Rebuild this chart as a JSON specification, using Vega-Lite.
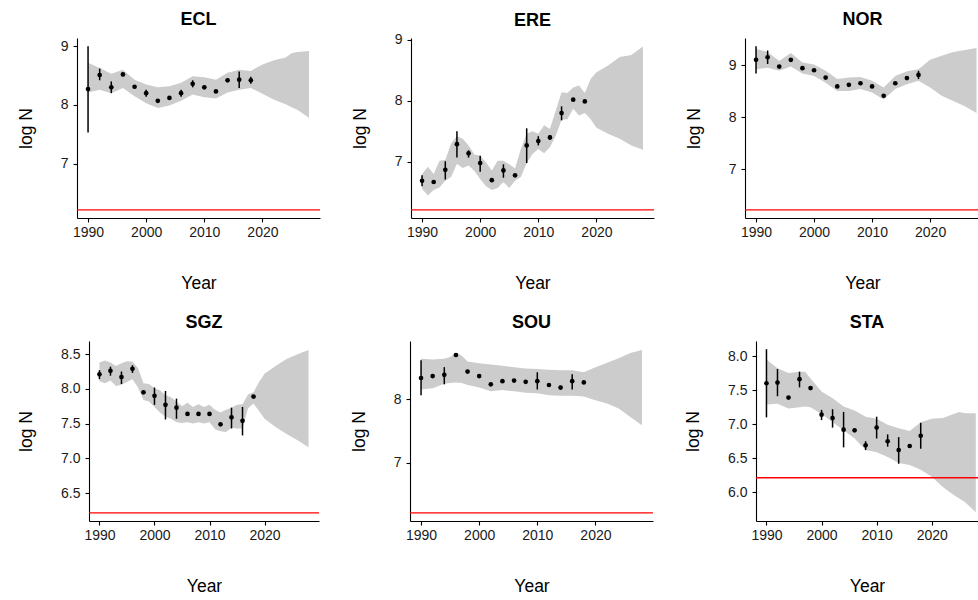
{
"$schema": "https://vega.github.io/schema/vega-lite/v6.json",
"padding": {"left": 16, "top": 11, "right": 0, "bottom": 0},
"background": "white",
"datasets": {
"thr": [{"threshold": 6.2146}],
"band": [
{"pop":"ECL","year":1990,"lower":8.21,"upper":8.72},{"pop":"ECL","year":1992,"lower":8.26,"upper":8.63},{"pop":"ECL","year":1994,"lower":8.2,"upper":8.53},{"pop":"ECL","year":1996,"lower":8.29,"upper":8.6},{"pop":"ECL","year":1998,"lower":8.15,"upper":8.43},{"pop":"ECL","year":2000,"lower":8.03,"upper":8.35},{"pop":"ECL","year":2002,"lower":7.95,"upper":8.3},{"pop":"ECL","year":2004,"lower":7.99,"upper":8.32},{"pop":"ECL","year":2006,"lower":8.07,"upper":8.38},{"pop":"ECL","year":2008,"lower":8.18,"upper":8.49},{"pop":"ECL","year":2010,"lower":8.13,"upper":8.47},{"pop":"ECL","year":2012,"lower":8.11,"upper":8.43},{"pop":"ECL","year":2014,"lower":8.21,"upper":8.55},{"pop":"ECL","year":2016,"lower":8.26,"upper":8.6},{"pop":"ECL","year":2018,"lower":8.29,"upper":8.58},{"pop":"ECL","year":2020,"lower":8.19,"upper":8.69},{"pop":"ECL","year":2022,"lower":8.09,"upper":8.76},{"pop":"ECL","year":2024,"lower":8.01,"upper":8.81},{"pop":"ECL","year":2025,"lower":7.96,"upper":8.88},{"pop":"ECL","year":2026,"lower":7.92,"upper":8.9},{"pop":"ECL","year":2028,"lower":7.78,"upper":8.92},
{"pop":"ERE","year":1990,"lower":6.56,"upper":6.8},{"pop":"ERE","year":1991,"lower":6.45,"upper":6.92},{"pop":"ERE","year":1992,"lower":6.54,"upper":6.8},{"pop":"ERE","year":1993,"lower":6.58,"upper":7.02},{"pop":"ERE","year":1994,"lower":6.69,"upper":7.03},{"pop":"ERE","year":1995,"lower":6.75,"upper":7.3},{"pop":"ERE","year":1996,"lower":6.97,"upper":7.42},{"pop":"ERE","year":1997,"lower":6.9,"upper":7.38},{"pop":"ERE","year":1998,"lower":6.94,"upper":7.27},{"pop":"ERE","year":1999,"lower":6.85,"upper":7.12},{"pop":"ERE","year":2000,"lower":6.72,"upper":7.1},{"pop":"ERE","year":2001,"lower":6.6,"upper":6.99},{"pop":"ERE","year":2002,"lower":6.54,"upper":6.86},{"pop":"ERE","year":2003,"lower":6.57,"upper":7.02},{"pop":"ERE","year":2004,"lower":6.67,"upper":7.02},{"pop":"ERE","year":2005,"lower":6.57,"upper":6.96},{"pop":"ERE","year":2006,"lower":6.69,"upper":6.89},{"pop":"ERE","year":2007,"lower":6.75,"upper":7.21},{"pop":"ERE","year":2008,"lower":6.98,"upper":7.46},{"pop":"ERE","year":2009,"lower":7.13,"upper":7.5},{"pop":"ERE","year":2010,"lower":7.21,"upper":7.46},{"pop":"ERE","year":2011,"lower":7.14,"upper":7.6},{"pop":"ERE","year":2012,"lower":7.24,"upper":7.54},{"pop":"ERE","year":2013,"lower":7.43,"upper":7.84},{"pop":"ERE","year":2014,"lower":7.69,"upper":8.14},{"pop":"ERE","year":2015,"lower":7.7,"upper":8.13},{"pop":"ERE","year":2016,"lower":7.87,"upper":8.22},{"pop":"ERE","year":2017,"lower":7.76,"upper":8.25},{"pop":"ERE","year":2018,"lower":7.8,"upper":8.13},{"pop":"ERE","year":2019,"lower":7.7,"upper":8.36},{"pop":"ERE","year":2020,"lower":7.56,"upper":8.47},{"pop":"ERE","year":2022,"lower":7.46,"upper":8.58},{"pop":"ERE","year":2024,"lower":7.38,"upper":8.72},{"pop":"ERE","year":2026,"lower":7.27,"upper":8.75},{"pop":"ERE","year":2028,"lower":7.2,"upper":8.89},
{"pop":"NOR","year":1990,"lower":8.92,"upper":9.31},{"pop":"NOR","year":1992,"lower":8.95,"upper":9.25},{"pop":"NOR","year":1994,"lower":8.89,"upper":9.08},{"pop":"NOR","year":1996,"lower":8.97,"upper":9.23},{"pop":"NOR","year":1998,"lower":8.84,"upper":9.05},{"pop":"NOR","year":2000,"lower":8.79,"upper":9.01},{"pop":"NOR","year":2002,"lower":8.66,"upper":8.89},{"pop":"NOR","year":2004,"lower":8.5,"upper":8.73},{"pop":"NOR","year":2006,"lower":8.5,"upper":8.76},{"pop":"NOR","year":2008,"lower":8.54,"upper":8.77},{"pop":"NOR","year":2010,"lower":8.47,"upper":8.7},{"pop":"NOR","year":2012,"lower":8.34,"upper":8.57},{"pop":"NOR","year":2014,"lower":8.54,"upper":8.79},{"pop":"NOR","year":2016,"lower":8.63,"upper":8.88},{"pop":"NOR","year":2018,"lower":8.7,"upper":8.92},{"pop":"NOR","year":2020,"lower":8.57,"upper":9.1},{"pop":"NOR","year":2022,"lower":8.41,"upper":9.18},{"pop":"NOR","year":2024,"lower":8.31,"upper":9.25},{"pop":"NOR","year":2026,"lower":8.21,"upper":9.29},{"pop":"NOR","year":2028,"lower":8.08,"upper":9.33},
{"pop":"SGZ","year":1990,"lower":8.11,"upper":8.38},{"pop":"SGZ","year":1991,"lower":8.08,"upper":8.41},{"pop":"SGZ","year":1992,"lower":8.12,"upper":8.38},{"pop":"SGZ","year":1993,"lower":8.04,"upper":8.33},{"pop":"SGZ","year":1994,"lower":8.06,"upper":8.37},{"pop":"SGZ","year":1995,"lower":8.1,"upper":8.4},{"pop":"SGZ","year":1996,"lower":8.14,"upper":8.39},{"pop":"SGZ","year":1997,"lower":8.02,"upper":8.3},{"pop":"SGZ","year":1998,"lower":7.84,"upper":8.08},{"pop":"SGZ","year":1999,"lower":7.82,"upper":8.07},{"pop":"SGZ","year":2000,"lower":7.74,"upper":8.01},{"pop":"SGZ","year":2001,"lower":7.66,"upper":7.98},{"pop":"SGZ","year":2002,"lower":7.6,"upper":7.91},{"pop":"SGZ","year":2003,"lower":7.57,"upper":7.88},{"pop":"SGZ","year":2004,"lower":7.52,"upper":7.82},{"pop":"SGZ","year":2005,"lower":7.51,"upper":7.75},{"pop":"SGZ","year":2006,"lower":7.52,"upper":7.8},{"pop":"SGZ","year":2007,"lower":7.5,"upper":7.74},{"pop":"SGZ","year":2008,"lower":7.52,"upper":7.78},{"pop":"SGZ","year":2009,"lower":7.5,"upper":7.74},{"pop":"SGZ","year":2010,"lower":7.52,"upper":7.77},{"pop":"SGZ","year":2011,"lower":7.42,"upper":7.7},{"pop":"SGZ","year":2012,"lower":7.39,"upper":7.66},{"pop":"SGZ","year":2013,"lower":7.38,"upper":7.7},{"pop":"SGZ","year":2014,"lower":7.44,"upper":7.73},{"pop":"SGZ","year":2015,"lower":7.43,"upper":7.77},{"pop":"SGZ","year":2016,"lower":7.43,"upper":7.78},{"pop":"SGZ","year":2017,"lower":7.72,"upper":7.92},{"pop":"SGZ","year":2018,"lower":7.79,"upper":7.95},{"pop":"SGZ","year":2019,"lower":7.68,"upper":8.1},{"pop":"SGZ","year":2020,"lower":7.57,"upper":8.22},{"pop":"SGZ","year":2022,"lower":7.45,"upper":8.33},{"pop":"SGZ","year":2024,"lower":7.35,"upper":8.43},{"pop":"SGZ","year":2026,"lower":7.26,"upper":8.5},{"pop":"SGZ","year":2028,"lower":7.16,"upper":8.56},
{"pop":"SOU","year":1990,"lower":8.15,"upper":8.63},{"pop":"SOU","year":1992,"lower":8.17,"upper":8.62},{"pop":"SOU","year":1994,"lower":8.24,"upper":8.63},{"pop":"SOU","year":1995,"lower":8.25,"upper":8.66},{"pop":"SOU","year":1996,"lower":8.26,"upper":8.73},{"pop":"SOU","year":1997,"lower":8.25,"upper":8.68},{"pop":"SOU","year":1998,"lower":8.22,"upper":8.59},{"pop":"SOU","year":2000,"lower":8.18,"upper":8.56},{"pop":"SOU","year":2002,"lower":8.12,"upper":8.54},{"pop":"SOU","year":2004,"lower":8.14,"upper":8.52},{"pop":"SOU","year":2006,"lower":8.12,"upper":8.5},{"pop":"SOU","year":2008,"lower":8.1,"upper":8.48},{"pop":"SOU","year":2010,"lower":8.09,"upper":8.47},{"pop":"SOU","year":2012,"lower":8.06,"upper":8.46},{"pop":"SOU","year":2014,"lower":8.05,"upper":8.45},{"pop":"SOU","year":2016,"lower":8.05,"upper":8.45},{"pop":"SOU","year":2018,"lower":8.04,"upper":8.42},{"pop":"SOU","year":2020,"lower":7.98,"upper":8.5},{"pop":"SOU","year":2022,"lower":7.93,"upper":8.57},{"pop":"SOU","year":2024,"lower":7.85,"upper":8.64},{"pop":"SOU","year":2026,"lower":7.72,"upper":8.72},{"pop":"SOU","year":2028,"lower":7.59,"upper":8.77},
{"pop":"STA","year":1990,"lower":7.29,"upper":7.95},{"pop":"STA","year":1992,"lower":7.3,"upper":7.82},{"pop":"STA","year":1994,"lower":7.23,"upper":7.75},{"pop":"STA","year":1996,"lower":7.25,"upper":7.77},{"pop":"STA","year":1997,"lower":7.26,"upper":7.77},{"pop":"STA","year":1998,"lower":7.25,"upper":7.67},{"pop":"STA","year":2000,"lower":7.15,"upper":7.48},{"pop":"STA","year":2002,"lower":7.03,"upper":7.38},{"pop":"STA","year":2004,"lower":6.91,"upper":7.26},{"pop":"STA","year":2006,"lower":6.79,"upper":7.2},{"pop":"STA","year":2008,"lower":6.62,"upper":7.11},{"pop":"STA","year":2010,"lower":6.59,"upper":7.08},{"pop":"STA","year":2012,"lower":6.52,"upper":6.99},{"pop":"STA","year":2014,"lower":6.43,"upper":6.94},{"pop":"STA","year":2016,"lower":6.4,"upper":6.9},{"pop":"STA","year":2018,"lower":6.33,"upper":7.03},{"pop":"STA","year":2020,"lower":6.23,"upper":7.08},{"pop":"STA","year":2022,"lower":6.08,"upper":7.09},{"pop":"STA","year":2024,"lower":5.96,"upper":7.15},{"pop":"STA","year":2025,"lower":5.91,"upper":7.18},{"pop":"STA","year":2026,"lower":5.86,"upper":7.16},{"pop":"STA","year":2028,"lower":5.71,"upper":7.16}
],
"obs": [
{"pop":"ECL","year":1990,"est":8.27,"lo":7.53,"hi":9.0},{"pop":"ECL","year":1992,"est":8.51,"lo":8.42,"hi":8.62},{"pop":"ECL","year":1994,"est":8.3,"lo":8.2,"hi":8.4},{"pop":"ECL","year":1996,"est":8.52,"lo":8.49,"hi":8.55},{"pop":"ECL","year":1998,"est":8.31,"lo":8.28,"hi":8.34},{"pop":"ECL","year":2000,"est":8.2,"lo":8.14,"hi":8.26},{"pop":"ECL","year":2002,"est":8.07,"lo":8.05,"hi":8.09},{"pop":"ECL","year":2004,"est":8.12,"lo":8.1,"hi":8.14},{"pop":"ECL","year":2006,"est":8.2,"lo":8.14,"hi":8.26},{"pop":"ECL","year":2008,"est":8.36,"lo":8.3,"hi":8.42},{"pop":"ECL","year":2010,"est":8.3,"lo":8.27,"hi":8.33},{"pop":"ECL","year":2012,"est":8.23,"lo":8.21,"hi":8.25},{"pop":"ECL","year":2014,"est":8.42,"lo":8.39,"hi":8.45},{"pop":"ECL","year":2016,"est":8.43,"lo":8.29,"hi":8.57},{"pop":"ECL","year":2018,"est":8.42,"lo":8.36,"hi":8.48},
{"pop":"ERE","year":1990,"est":6.69,"lo":6.6,"hi":6.78},{"pop":"ERE","year":1992,"est":6.67,"lo":6.64,"hi":6.7},{"pop":"ERE","year":1994,"est":6.87,"lo":6.71,"hi":7.01},{"pop":"ERE","year":1996,"est":7.29,"lo":7.07,"hi":7.5},{"pop":"ERE","year":1998,"est":7.14,"lo":7.07,"hi":7.19},{"pop":"ERE","year":2000,"est":6.98,"lo":6.84,"hi":7.1},{"pop":"ERE","year":2002,"est":6.7,"lo":6.68,"hi":6.72},{"pop":"ERE","year":2004,"est":6.86,"lo":6.74,"hi":6.96},{"pop":"ERE","year":2006,"est":6.78,"lo":6.76,"hi":6.8},{"pop":"ERE","year":2008,"est":7.27,"lo":6.98,"hi":7.55},{"pop":"ERE","year":2010,"est":7.34,"lo":7.27,"hi":7.42},{"pop":"ERE","year":2012,"est":7.4,"lo":7.36,"hi":7.44},{"pop":"ERE","year":2014,"est":7.8,"lo":7.68,"hi":7.91},{"pop":"ERE","year":2016,"est":8.02,"lo":8.0,"hi":8.04},{"pop":"ERE","year":2018,"est":7.99,"lo":7.97,"hi":8.01},
{"pop":"NOR","year":1990,"est":9.1,"lo":8.84,"hi":9.36},{"pop":"NOR","year":1992,"est":9.15,"lo":9.02,"hi":9.28},{"pop":"NOR","year":1994,"est":8.97,"lo":8.95,"hi":8.99},{"pop":"NOR","year":1996,"est":9.1,"lo":9.08,"hi":9.12},{"pop":"NOR","year":1998,"est":8.94,"lo":8.92,"hi":8.96},{"pop":"NOR","year":2000,"est":8.9,"lo":8.88,"hi":8.92},{"pop":"NOR","year":2002,"est":8.76,"lo":8.74,"hi":8.78},{"pop":"NOR","year":2004,"est":8.59,"lo":8.57,"hi":8.61},{"pop":"NOR","year":2006,"est":8.62,"lo":8.6,"hi":8.64},{"pop":"NOR","year":2008,"est":8.65,"lo":8.63,"hi":8.67},{"pop":"NOR","year":2010,"est":8.59,"lo":8.57,"hi":8.61},{"pop":"NOR","year":2012,"est":8.41,"lo":8.39,"hi":8.43},{"pop":"NOR","year":2014,"est":8.65,"lo":8.62,"hi":8.68},{"pop":"NOR","year":2016,"est":8.75,"lo":8.73,"hi":8.77},{"pop":"NOR","year":2018,"est":8.81,"lo":8.73,"hi":8.89},
{"pop":"SGZ","year":1990,"est":8.21,"lo":8.14,"hi":8.27},{"pop":"SGZ","year":1992,"est":8.26,"lo":8.19,"hi":8.32},{"pop":"SGZ","year":1994,"est":8.17,"lo":8.07,"hi":8.25},{"pop":"SGZ","year":1996,"est":8.29,"lo":8.23,"hi":8.34},{"pop":"SGZ","year":1998,"est":7.95,"lo":7.93,"hi":7.97},{"pop":"SGZ","year":2000,"est":7.9,"lo":7.77,"hi":8.02},{"pop":"SGZ","year":2002,"est":7.77,"lo":7.56,"hi":7.97},{"pop":"SGZ","year":2004,"est":7.73,"lo":7.57,"hi":7.86},{"pop":"SGZ","year":2006,"est":7.64,"lo":7.62,"hi":7.66},{"pop":"SGZ","year":2008,"est":7.64,"lo":7.62,"hi":7.66},{"pop":"SGZ","year":2010,"est":7.64,"lo":7.62,"hi":7.66},{"pop":"SGZ","year":2012,"est":7.49,"lo":7.47,"hi":7.51},{"pop":"SGZ","year":2014,"est":7.59,"lo":7.43,"hi":7.73},{"pop":"SGZ","year":2016,"est":7.54,"lo":7.33,"hi":7.74},{"pop":"SGZ","year":2018,"est":7.89,"lo":7.87,"hi":7.91},
{"pop":"SOU","year":1990,"est":8.33,"lo":8.06,"hi":8.61},{"pop":"SOU","year":1992,"est":8.36,"lo":8.34,"hi":8.38},{"pop":"SOU","year":1994,"est":8.38,"lo":8.23,"hi":8.5},{"pop":"SOU","year":1996,"est":8.69,"lo":8.67,"hi":8.71},{"pop":"SOU","year":1998,"est":8.43,"lo":8.41,"hi":8.45},{"pop":"SOU","year":2000,"est":8.36,"lo":8.34,"hi":8.38},{"pop":"SOU","year":2002,"est":8.23,"lo":8.21,"hi":8.25},{"pop":"SOU","year":2004,"est":8.28,"lo":8.26,"hi":8.3},{"pop":"SOU","year":2006,"est":8.29,"lo":8.27,"hi":8.31},{"pop":"SOU","year":2008,"est":8.27,"lo":8.25,"hi":8.29},{"pop":"SOU","year":2010,"est":8.28,"lo":8.15,"hi":8.42},{"pop":"SOU","year":2012,"est":8.22,"lo":8.2,"hi":8.24},{"pop":"SOU","year":2014,"est":8.18,"lo":8.15,"hi":8.21},{"pop":"SOU","year":2016,"est":8.28,"lo":8.15,"hi":8.39},{"pop":"SOU","year":2018,"est":8.26,"lo":8.24,"hi":8.28},
{"pop":"STA","year":1990,"est":7.6,"lo":7.1,"hi":8.1},{"pop":"STA","year":1992,"est":7.61,"lo":7.41,"hi":7.81},{"pop":"STA","year":1994,"est":7.39,"lo":7.37,"hi":7.41},{"pop":"STA","year":1996,"est":7.66,"lo":7.54,"hi":7.77},{"pop":"STA","year":1998,"est":7.53,"lo":7.51,"hi":7.55},{"pop":"STA","year":2000,"est":7.14,"lo":7.06,"hi":7.21},{"pop":"STA","year":2002,"est":7.09,"lo":6.95,"hi":7.22},{"pop":"STA","year":2004,"est":6.92,"lo":6.66,"hi":7.18},{"pop":"STA","year":2006,"est":6.91,"lo":6.89,"hi":6.93},{"pop":"STA","year":2008,"est":6.69,"lo":6.62,"hi":6.75},{"pop":"STA","year":2010,"est":6.95,"lo":6.79,"hi":7.11},{"pop":"STA","year":2012,"est":6.75,"lo":6.67,"hi":6.85},{"pop":"STA","year":2014,"est":6.62,"lo":6.42,"hi":6.81},{"pop":"STA","year":2016,"est":6.68,"lo":6.66,"hi":6.7},{"pop":"STA","year":2018,"est":6.83,"lo":6.64,"hi":7.02}
]
},
"spacing": 22,
"vconcat": [
{"spacing": 0, "hconcat": [
{"width": 1, "height": 1, "data": {"values": []}, "mark": {"type": "point", "opacity": 0}},
{"spacing": 30, "hconcat": [
{"title": {"text": "ECL"}, "width": 243, "height": 180, "layer": [
{"data": {"name": "band"}, "transform": [{"filter": "datum.pop === 'ECL'"}], "mark": {"type": "area", "color": "#cccccc", "opacity": 1}, "encoding": {"x": {"field": "year", "type": "quantitative", "title": "Year", "scale": {"domain": [1988.1, 2029.9], "nice": false, "zero": false}, "axis": {"values": [1990, 2000, 2010, 2020], "format": "d"}}, "y": {"field": "lower", "type": "quantitative", "title": "log N", "scale": {"domain": [6.075, 9.14], "nice": false, "zero": false}, "axis": {"values": [7, 8, 9], "format": "d"}}, "y2": {"field": "upper"}}},
{"data": {"name": "thr"}, "mark": {"type": "rule", "color": "#ff0000", "strokeWidth": 1.3}, "encoding": {"y": {"field": "threshold", "type": "quantitative", "title": "log N"}}},
{"data": {"name": "obs"}, "transform": [{"filter": "datum.pop === 'ECL'"}], "mark": {"type": "rule", "color": "black", "strokeWidth": 1.5}, "encoding": {"x": {"field": "year", "type": "quantitative", "title": "Year"}, "y": {"field": "lo", "type": "quantitative", "title": "log N"}, "y2": {"field": "hi"}}},
{"data": {"name": "obs"}, "transform": [{"filter": "datum.pop === 'ECL'"}], "mark": {"type": "point", "filled": true, "color": "black", "opacity": 1, "size": 22}, "encoding": {"x": {"field": "year", "type": "quantitative", "title": "Year"}, "y": {"field": "est", "type": "quantitative", "title": "log N"}}}
]},
{"title": {"text": "ERE", "offset": 3}, "width": 243, "height": 180, "layer": [
{"data": {"name": "band"}, "transform": [{"filter": "datum.pop === 'ERE'"}], "mark": {"type": "area", "color": "#cccccc", "opacity": 1}, "encoding": {"x": {"field": "year", "type": "quantitative", "title": "Year", "scale": {"domain": [1988.1, 2029.9], "nice": false, "zero": false}, "axis": {"values": [1990, 2000, 2010, 2020], "format": "d"}}, "y": {"field": "lower", "type": "quantitative", "title": "log N", "scale": {"domain": [6.08, 9.03], "nice": false, "zero": false}, "axis": {"values": [7, 8, 9], "format": "d"}}, "y2": {"field": "upper"}}},
{"data": {"name": "thr"}, "mark": {"type": "rule", "color": "#ff0000", "strokeWidth": 1.3}, "encoding": {"y": {"field": "threshold", "type": "quantitative", "title": "log N"}}},
{"data": {"name": "obs"}, "transform": [{"filter": "datum.pop === 'ERE'"}], "mark": {"type": "rule", "color": "black", "strokeWidth": 1.5}, "encoding": {"x": {"field": "year", "type": "quantitative", "title": "Year"}, "y": {"field": "lo", "type": "quantitative", "title": "log N"}, "y2": {"field": "hi"}}},
{"data": {"name": "obs"}, "transform": [{"filter": "datum.pop === 'ERE'"}], "mark": {"type": "point", "filled": true, "color": "black", "opacity": 1, "size": 22}, "encoding": {"x": {"field": "year", "type": "quantitative", "title": "Year"}, "y": {"field": "est", "type": "quantitative", "title": "log N"}}}
]},
{"title": {"text": "NOR"}, "width": 235, "height": 180, "layer": [
{"data": {"name": "band"}, "transform": [{"filter": "datum.pop === 'NOR'"}], "mark": {"type": "area", "color": "#cccccc", "opacity": 1}, "encoding": {"x": {"field": "year", "type": "quantitative", "title": "Year", "scale": {"domain": [1988.1, 2028.6], "nice": false, "zero": false}, "axis": {"values": [1990, 2000, 2010, 2020], "format": "d"}}, "y": {"field": "lower", "type": "quantitative", "title": "log N", "scale": {"domain": [6.06, 9.52], "nice": false, "zero": false}, "axis": {"values": [7, 8, 9], "format": "d"}}, "y2": {"field": "upper"}}},
{"data": {"name": "thr"}, "mark": {"type": "rule", "color": "#ff0000", "strokeWidth": 1.3}, "encoding": {"y": {"field": "threshold", "type": "quantitative", "title": "log N"}}},
{"data": {"name": "obs"}, "transform": [{"filter": "datum.pop === 'NOR'"}], "mark": {"type": "rule", "color": "black", "strokeWidth": 1.5}, "encoding": {"x": {"field": "year", "type": "quantitative", "title": "Year"}, "y": {"field": "lo", "type": "quantitative", "title": "log N"}, "y2": {"field": "hi"}}},
{"data": {"name": "obs"}, "transform": [{"filter": "datum.pop === 'NOR'"}], "mark": {"type": "point", "filled": true, "color": "black", "opacity": 1, "size": 22}, "encoding": {"x": {"field": "year", "type": "quantitative", "title": "Year"}, "y": {"field": "est", "type": "quantitative", "title": "log N"}}}
]}
]}
]},
{"spacing": 0, "hconcat": [
{"width": 1, "height": 1, "data": {"values": []}, "mark": {"type": "point", "opacity": 0}},
{"spacing": 30, "hconcat": [
{"title": {"text": "SGZ"}, "width": 230, "height": 180, "layer": [
{"data": {"name": "band"}, "transform": [{"filter": "datum.pop === 'SGZ'"}], "mark": {"type": "area", "color": "#cccccc", "opacity": 1}, "encoding": {"x": {"field": "year", "type": "quantitative", "title": "Year", "scale": {"domain": [1988.1, 2029.9], "nice": false, "zero": false}, "axis": {"values": [1990, 2000, 2010, 2020], "format": "d"}}, "y": {"field": "lower", "type": "quantitative", "title": "log N", "scale": {"domain": [6.097, 8.69], "nice": false, "zero": false}, "axis": {"values": [6.5, 7, 7.5, 8, 8.5], "format": ".1f", "titlePadding": 25}}, "y2": {"field": "upper"}}},
{"data": {"name": "thr"}, "mark": {"type": "rule", "color": "#ff0000", "strokeWidth": 1.3}, "encoding": {"y": {"field": "threshold", "type": "quantitative", "title": "log N"}}},
{"data": {"name": "obs"}, "transform": [{"filter": "datum.pop === 'SGZ'"}], "mark": {"type": "rule", "color": "black", "strokeWidth": 1.5}, "encoding": {"x": {"field": "year", "type": "quantitative", "title": "Year"}, "y": {"field": "lo", "type": "quantitative", "title": "log N"}, "y2": {"field": "hi"}}},
{"data": {"name": "obs"}, "transform": [{"filter": "datum.pop === 'SGZ'"}], "mark": {"type": "point", "filled": true, "color": "black", "opacity": 1, "size": 22}, "encoding": {"x": {"field": "year", "type": "quantitative", "title": "Year"}, "y": {"field": "est", "type": "quantitative", "title": "log N"}}}
]},
{"title": {"text": "SOU"}, "width": 243, "height": 180, "layer": [
{"data": {"name": "band"}, "transform": [{"filter": "datum.pop === 'SOU'"}], "mark": {"type": "area", "color": "#cccccc", "opacity": 1}, "encoding": {"x": {"field": "year", "type": "quantitative", "title": "Year", "scale": {"domain": [1988.1, 2029.9], "nice": false, "zero": false}, "axis": {"values": [1990, 2000, 2010, 2020], "format": "d"}}, "y": {"field": "lower", "type": "quantitative", "title": "log N", "scale": {"domain": [6.087, 8.91], "nice": false, "zero": false}, "axis": {"values": [7, 8], "format": "d"}}, "y2": {"field": "upper"}}},
{"data": {"name": "thr"}, "mark": {"type": "rule", "color": "#ff0000", "strokeWidth": 1.3}, "encoding": {"y": {"field": "threshold", "type": "quantitative", "title": "log N"}}},
{"data": {"name": "obs"}, "transform": [{"filter": "datum.pop === 'SOU'"}], "mark": {"type": "rule", "color": "black", "strokeWidth": 1.5}, "encoding": {"x": {"field": "year", "type": "quantitative", "title": "Year"}, "y": {"field": "lo", "type": "quantitative", "title": "log N"}, "y2": {"field": "hi"}}},
{"data": {"name": "obs"}, "transform": [{"filter": "datum.pop === 'SOU'"}], "mark": {"type": "point", "filled": true, "color": "black", "opacity": 1, "size": 22}, "encoding": {"x": {"field": "year", "type": "quantitative", "title": "Year"}, "y": {"field": "est", "type": "quantitative", "title": "log N"}}}
]},
{"title": {"text": "STA"}, "width": 222, "height": 180, "layer": [
{"data": {"name": "band"}, "transform": [{"filter": "datum.pop === 'STA'"}], "mark": {"type": "area", "color": "#cccccc", "opacity": 1}, "encoding": {"x": {"field": "year", "type": "quantitative", "title": "Year", "scale": {"domain": [1988.1, 2028.4], "nice": false, "zero": false}, "axis": {"values": [1990, 2000, 2010, 2020], "format": "d"}}, "y": {"field": "lower", "type": "quantitative", "title": "log N", "scale": {"domain": [5.58, 8.22], "nice": false, "zero": false}, "axis": {"values": [6, 6.5, 7, 7.5, 8], "format": ".1f", "titlePadding": 25}}, "y2": {"field": "upper"}}},
{"data": {"name": "thr"}, "mark": {"type": "rule", "color": "#ff0000", "strokeWidth": 1.3}, "encoding": {"y": {"field": "threshold", "type": "quantitative", "title": "log N"}}},
{"data": {"name": "obs"}, "transform": [{"filter": "datum.pop === 'STA'"}], "mark": {"type": "rule", "color": "black", "strokeWidth": 1.5}, "encoding": {"x": {"field": "year", "type": "quantitative", "title": "Year"}, "y": {"field": "lo", "type": "quantitative", "title": "log N"}, "y2": {"field": "hi"}}},
{"data": {"name": "obs"}, "transform": [{"filter": "datum.pop === 'STA'"}], "mark": {"type": "point", "filled": true, "color": "black", "opacity": 1, "size": 22}, "encoding": {"x": {"field": "year", "type": "quantitative", "title": "Year"}, "y": {"field": "est", "type": "quantitative", "title": "log N"}}}
]}
]}
]}
],
"config": {
"view": {"stroke": null},
"font": "Liberation Sans",
"axis": {"grid": false, "domainColor": "black", "domainWidth": 1.1, "tickColor": "black", "tickWidth": 1.1, "tickSize": 4, "labelFontSize": 14, "labelColor": "#1a1a1a", "labelFont": "Liberation Sans", "titleFont": "Liberation Sans", "titleFontSize": 17.5, "titleFontWeight": "normal", "titleColor": "black"},
"axisX": {"titlePadding": 35, "labelPadding": 3, "labelFlush": false},
"axisY": {"titlePadding": 25, "labelPadding": 5, "minExtent": 0},
"title": {"font": "Liberation Sans", "fontSize": 18, "fontWeight": "bold", "anchor": "middle", "frame": "group", "offset": 9, "color": "black"}
}
}
